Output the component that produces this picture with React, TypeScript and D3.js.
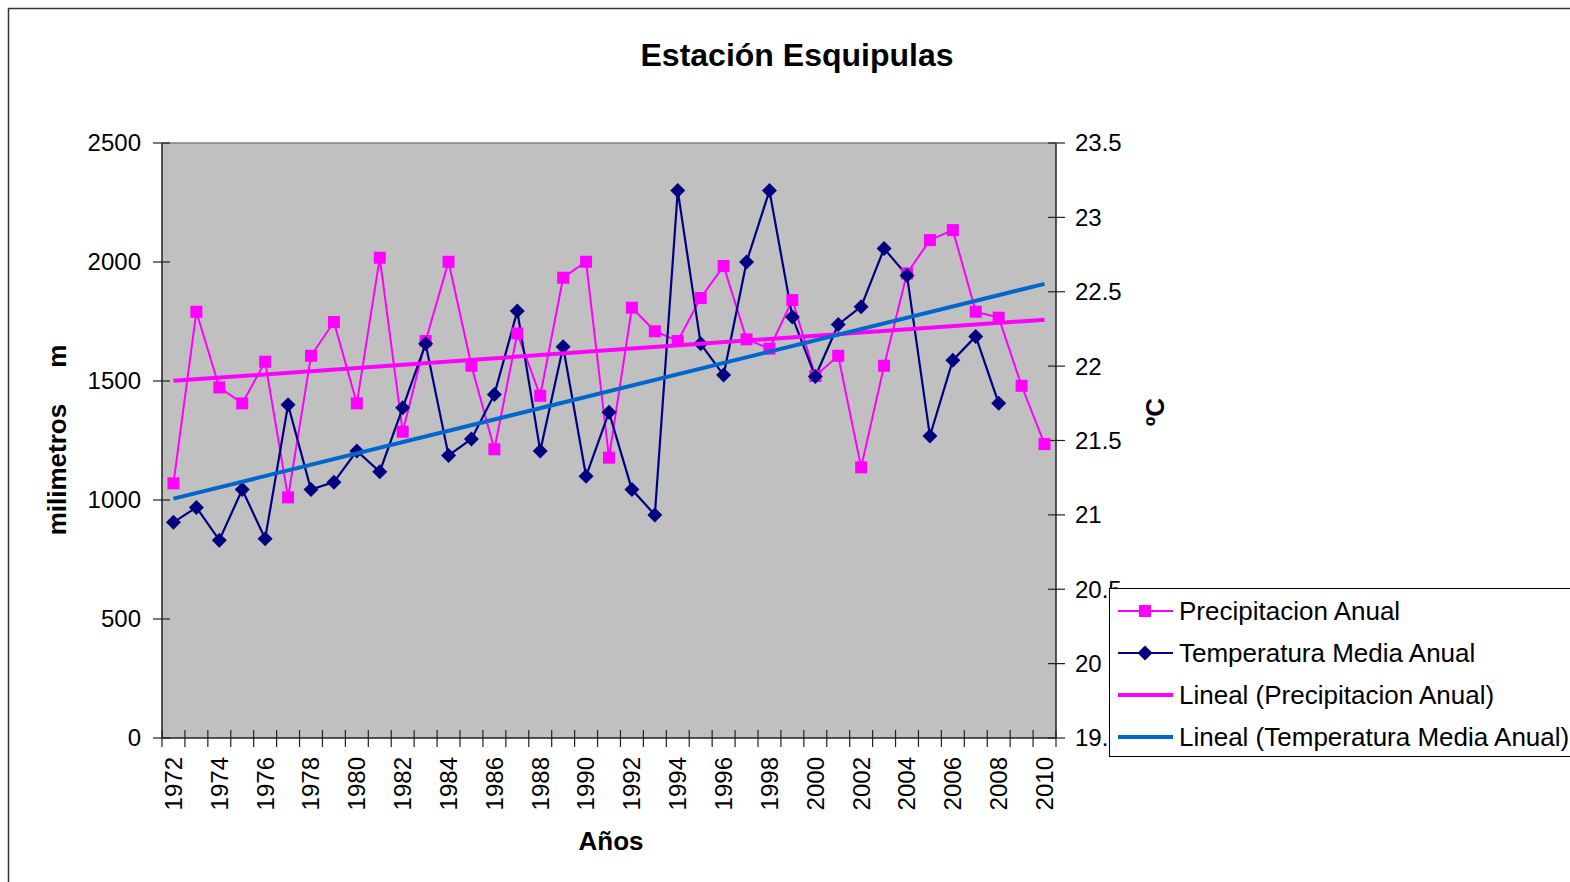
import React, { useEffect } from 'react';
import * as d3 from 'd3';

// Annual data, Estación Esquipulas
const years = d3.range(1972, 2011);

const precipitacion = [
  1070, 1791, 1473, 1406, 1581, 1011, 1606, 1748, 1406, 2018,
  1287, 1668, 2001, 1564, 1213, 1700, 1438, 1934, 2001, 1178,
  1808, 1709, 1668, 1849, 1983, 1675, 1636, 1840, 1521, 1606,
  1137, 1564, 1952, 2092, 2134, 1791, 1766, 1480, 1235,
];

// no temperature for 2009 and 2010
const temperatura: (number | null)[] = [
  20.95, 21.05, 20.83, 21.17, 20.84, 21.74, 21.17, 21.22, 21.43, 21.29,
  21.72, 22.15, 21.40, 21.51, 21.81, 22.37, 21.43, 22.13, 21.26, 21.69,
  21.17, 21.00, 23.18, 22.15, 21.94, 22.70, 23.18, 22.33, 21.93, 22.28,
  22.40, 22.79, 22.61, 21.53, 22.04, 22.20, 21.75, null, null,
];

const leftTicks = [0, 500, 1000, 1500, 2000, 2500];
const rightTicks = [19.5, 20, 20.5, 21, 21.5, 22, 22.5, 23, 23.5];
const yearLabels = years.filter((y) => (y - 1972) % 2 === 0);

const legendItems = [
  { label: 'Precipitacion Anual', color: '#FF00FF', width: 2, marker: 'square' },
  { label: 'Temperatura Media Anual', color: '#000080', width: 2, marker: 'diamond' },
  { label: 'Lineal (Precipitacion Anual)', color: '#FF00FF', width: 4, marker: null },
  { label: 'Lineal (Temperatura Media Anual)', color: '#0066CC', width: 4, marker: null },
];

const FONT = '"Liberation Sans", Arial, sans-serif';

// least squares line over the points that exist
function trend(values: (number | null)[]) {
  const pts = values
    .map((v, i) => [i, v] as [number, number | null])
    .filter((p) => p[1] !== null) as [number, number][];
  const mx = d3.mean(pts, (p) => p[0])!;
  const my = d3.mean(pts, (p) => p[1])!;
  const num = d3.sum(pts, (p) => (p[0] - mx) * (p[1] - my));
  const den = d3.sum(pts, (p) => (p[0] - mx) ** 2);
  const b = num / den;
  const a = my - b * mx;
  return (i: number) => a + b * i;
}

const Square = ({ x, y, color }: { x: number; y: number; color: string }) => (
  <rect x={x - 6} y={y - 6} width={12} height={12} fill={color} />
);

const Diamond = ({ x, y, color }: { x: number; y: number; color: string }) => (
  <path d={`M${x},${y - 7.5}L${x + 7.5},${y}L${x},${y + 7.5}L${x - 7.5},${y}Z`} fill={color} />
);

export default function App() {
  useEffect(() => {
    document.body.style.margin = '0';
  }, []);

  const plot = { left: 162, right: 1056, top: 143, bottom: 738 };

  const x = d3
    .scaleBand<number>()
    .domain(years)
    .range([plot.left, plot.right])
    .paddingInner(0)
    .paddingOuter(0);
  const cx = (yr: number) => x(yr)! + x.bandwidth() / 2;

  const yL = d3.scaleLinear().domain([0, 2500]).range([plot.bottom, plot.top]);
  const yR = d3.scaleLinear().domain([19.5, 23.5]).range([plot.bottom, plot.top]);

  const precipLine = d3
    .line<number>()
    .x((_, i) => cx(years[i]))
    .y((d) => yL(d));

  const tempPts = temperatura
    .map((t, i) => ({ year: years[i], t }))
    .filter((d) => d.t !== null) as { year: number; t: number }[];
  const tempLine = d3
    .line<{ year: number; t: number }>()
    .x((d) => cx(d.year))
    .y((d) => yR(d.t));

  const pTrend = trend(precipitacion);
  const tTrend = trend(temperatura);
  const n = years.length - 1;

  const boundaries = d3.range(years.length + 1).map((i) => plot.left + i * x.bandwidth());

  const legend = { x: 1109, y: 588, w: 520, h: 168 };

  return (
    <svg width={1570} height={882} style={{ display: 'block', fontFamily: FONT }}>
      <rect x={0} y={0} width={1570} height={882} fill="#ffffff" />
      <rect x={8.5} y={8.5} width={1600} height={1000} fill="none" stroke="#333" strokeWidth={1.5} />

      <text x={797} y={66} textAnchor="middle" fontSize={32} fontWeight="bold">
        Estación Esquipulas
      </text>

      {/* plot area */}
      <rect
        x={plot.left}
        y={plot.top}
        width={plot.right - plot.left}
        height={plot.bottom - plot.top}
        fill="#C0C0C0"
      />
      <line x1={plot.left} x2={plot.right} y1={plot.top} y2={plot.top} stroke="#808080" strokeWidth={1.5} />

      {/* left axis */}
      <line x1={plot.left} x2={plot.left} y1={plot.top} y2={plot.bottom} stroke="#222" strokeWidth={1.5} />
      {leftTicks.map((t) => (
        <g key={t}>
          <line x1={153} x2={170} y1={yL(t)} y2={yL(t)} stroke="#222" strokeWidth={1.2} />
          <text x={141} y={yL(t)} dy="0.35em" textAnchor="end" fontSize={24}>
            {t}
          </text>
        </g>
      ))}

      {/* right axis */}
      <line x1={plot.right} x2={plot.right} y1={plot.top} y2={plot.bottom} stroke="#222" strokeWidth={1.5} />
      {rightTicks.map((t) => (
        <g key={t}>
          <line x1={plot.right - 8} x2={plot.right + 9} y1={yR(t)} y2={yR(t)} stroke="#222" strokeWidth={1.2} />
          <text x={1075} y={yR(t)} dy="0.35em" textAnchor="start" fontSize={24}>
            {t}
          </text>
        </g>
      ))}

      {/* bottom axis */}
      <line x1={plot.left} x2={plot.right} y1={plot.bottom} y2={plot.bottom} stroke="#222" strokeWidth={1.5} />
      {boundaries.map((bx, i) => (
        <line key={i} x1={bx} x2={bx} y1={plot.bottom - 8} y2={plot.bottom + 9} stroke="#222" strokeWidth={1.2} />
      ))}
      {yearLabels.map((yr) => (
        <text
          key={yr}
          transform={`translate(${cx(yr)},757) rotate(-90)`}
          dy="0.35em"
          textAnchor="end"
          fontSize={24}
        >
          {yr}
        </text>
      ))}

      {/* axis titles */}
      <text
        transform="translate(57,440) rotate(-90)"
        dy="0.35em"
        textAnchor="middle"
        fontSize={26}
        fontWeight="bold"
        style={{ whiteSpace: 'pre' }}
      >
        {'milimetros     m'}
      </text>
      <text
        transform="translate(1155,412) rotate(-90)"
        dy="0.35em"
        textAnchor="middle"
        fontSize={26}
        fontWeight="bold"
      >
        ºC
      </text>
      <text x={611} y={850} textAnchor="middle" fontSize={26} fontWeight="bold">
        Años
      </text>

      {/* series */}
      <path d={precipLine(precipitacion)!} fill="none" stroke="#FF00FF" strokeWidth={2} />
      <path d={tempLine(tempPts)!} fill="none" stroke="#000080" strokeWidth={2.2} />
      {precipitacion.map((p, i) => (
        <Square key={i} x={cx(years[i])} y={yL(p)} color="#FF00FF" />
      ))}
      {tempPts.map((d) => (
        <Diamond key={d.year} x={cx(d.year)} y={yR(d.t)} color="#000080" />
      ))}

      {/* linear trends */}
      <line
        x1={cx(years[0])}
        x2={cx(years[n])}
        y1={yL(pTrend(0))}
        y2={yL(pTrend(n))}
        stroke="#FF00FF"
        strokeWidth={4}
      />
      <line
        x1={cx(years[0])}
        x2={cx(years[n])}
        y1={yR(tTrend(0))}
        y2={yR(tTrend(n))}
        stroke="#0066CC"
        strokeWidth={4}
      />

      {/* legend */}
      <rect x={legend.x + 0.5} y={legend.y + 0.5} width={legend.w} height={legend.h} fill="#fff" stroke="#000" strokeWidth={1} />
      {legendItems.map((item, i) => {
        const ly = legend.y + 23 + i * 42;
        return (
          <g key={item.label}>
            <line x1={1118} x2={1173} y1={ly} y2={ly} stroke={item.color} strokeWidth={item.width} />
            {item.marker === 'square' && <Square x={1145} y={ly} color={item.color} />}
            {item.marker === 'diamond' && <Diamond x={1145} y={ly} color={item.color} />}
            <text x={1179} y={ly} dy="0.35em" fontSize={26}>
              {item.label}
            </text>
          </g>
        );
      })}
    </svg>
  );
}
